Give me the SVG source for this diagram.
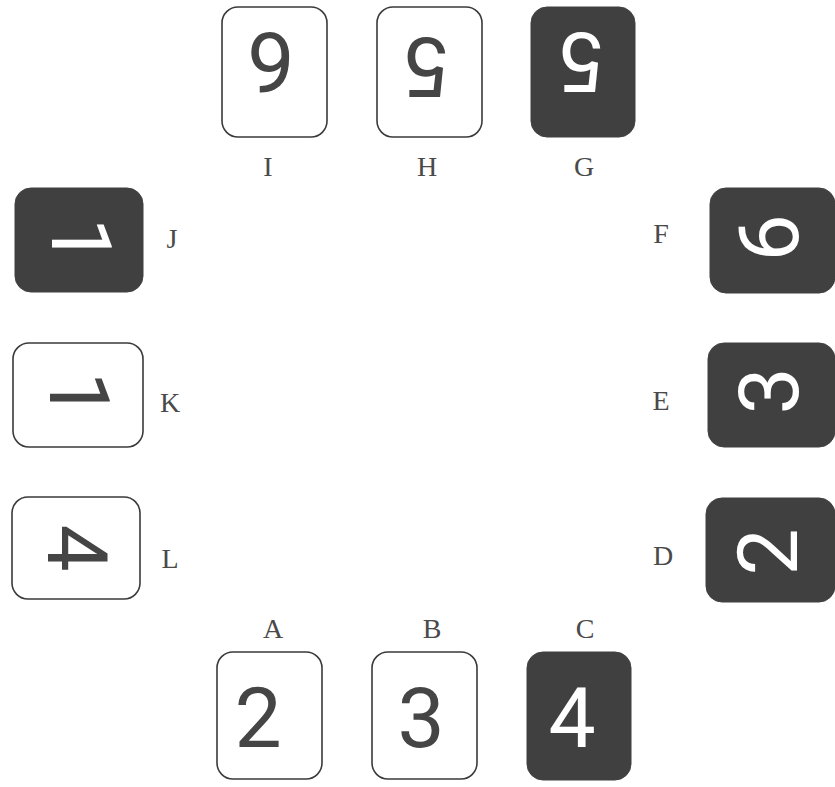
<svg xmlns="http://www.w3.org/2000/svg" width="835" height="787" viewBox="0 0 835 787">
<style>
.lt{fill:#ffffff;stroke:#3a3a3a;stroke-width:1.6}
.dk{fill:#404040;stroke:#404040;stroke-width:1}
.dl{font-family:Roboto,"Liberation Sans",sans-serif;font-size:84px;text-anchor:middle;fill:#454545}
.dw{font-family:Roboto,"Liberation Sans",sans-serif;font-size:84px;text-anchor:middle;fill:#ffffff}
.lb{font-family:"Liberation Serif","Times New Roman",serif;font-size:28px;text-anchor:middle;fill:#4a4a4a}
</style>
<rect width="835" height="787" fill="#ffffff"/>
<g id="connectors"/>
<g id="tile-I"><rect class="lt" x="222" y="7" width="105" height="130" rx="16"/><text class="dl" x="271" y="93" transform="rotate(180 271 63)">6</text><text class="lb" x="268" y="176">I</text></g>
<g id="tile-H"><rect class="lt" x="377" y="7" width="105" height="130" rx="16"/><text class="dl" x="428" y="98" transform="rotate(180 428 68)">5</text><text class="lb" x="427" y="176">H</text></g>
<g id="tile-G"><rect class="dk" x="531" y="7" width="104" height="130" rx="16"/><text class="dw" x="583" y="93" transform="rotate(180 583 63)">5</text><text class="lb" x="584" y="176">G</text></g>

<g id="tile-J"><rect class="dk" x="15" y="188" width="128" height="104" rx="16"/><text class="dw" x="82" y="271" transform="rotate(90 82 241)">1</text><text class="lb" x="172" y="248">J</text></g>
<g id="tile-K"><rect class="lt" x="13" y="343" width="130" height="104" rx="16"/><text class="dl" x="80" y="425" transform="rotate(90 80 395)">1</text><text class="lb" x="170" y="412">K</text></g>
<g id="tile-L"><rect class="lt" x="12" y="497" width="128" height="102" rx="16"/><text class="dl" x="78" y="578" transform="rotate(90 78 548)">4</text><text class="lb" x="170" y="568">L</text></g>

<g id="tile-F"><rect class="dk" x="710" y="188" width="125" height="105" rx="16"/><text class="dw" x="768" y="268" transform="rotate(-90 768 238)">6</text><text class="lb" x="661" y="243">F</text></g>
<g id="tile-E"><rect class="dk" x="708" y="343" width="127" height="104" rx="16"/><text class="dw" x="768" y="421" transform="rotate(-90 768 391)">3</text><text class="lb" x="661" y="410">E</text></g>
<g id="tile-D"><rect class="dk" x="706" y="498" width="129" height="104" rx="16"/><text class="dw" x="767" y="582" transform="rotate(-90 767 552)">2</text><text class="lb" x="663" y="565">D</text></g>

<g id="tile-A"><rect class="lt" x="217" y="652" width="105" height="127" rx="16"/><text class="dl" x="258" y="747">2</text><text class="lb" x="273" y="638">A</text></g>
<g id="tile-B"><rect class="lt" x="372" y="652" width="105" height="127" rx="16"/><text class="dl" x="421" y="747">3</text><text class="lb" x="432" y="638">B</text></g>
<g id="tile-C"><rect class="dk" x="527" y="652" width="104" height="128" rx="16"/><text class="dw" x="572" y="747">4</text><text class="lb" x="585" y="638">C</text></g>
</svg>
